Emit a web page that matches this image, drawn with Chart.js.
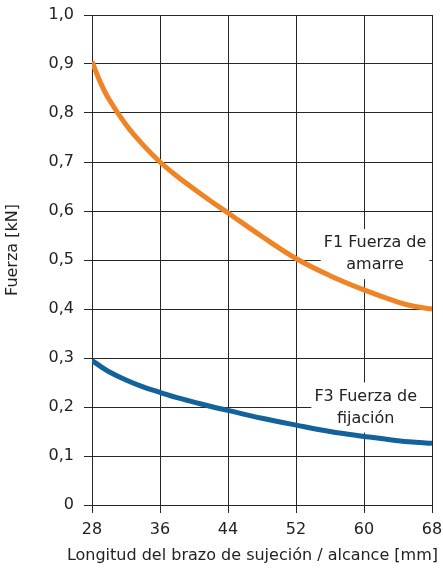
<!DOCTYPE html>
<html><head><meta charset="utf-8">
<script src="https://cdn.jsdelivr.net/npm/chart.js@4.4.1/dist/chart.umd.min.js"></script>
<style>html,body{margin:0;padding:0;background:#fff;}</style>
</head><body>
<canvas id="c" width="443" height="571"></canvas>
<script>
// ---- data ----
const xValues  = [28, 29, 30, 32, 34, 36, 38, 40, 42, 44, 48, 52, 56, 60, 64, 66, 68];
const f1Values = [0.905, 0.862, 0.828, 0.776, 0.735, 0.70, 0.671, 0.645, 0.62, 0.596, 0.548, 0.503, 0.468, 0.439, 0.414, 0.405, 0.40];
const f3Values = [0.295, 0.283, 0.272, 0.255, 0.241, 0.230, 0.219, 0.210, 0.201, 0.193, 0.177, 0.163, 0.150, 0.140, 0.131, 0.128, 0.126];
const yTickLabels = ['0', '0,1', '0,2', '0,3', '0,4', '0,5', '0,6', '0,7', '0,8', '0,9', '1,0'];
const xTitle = 'Longitud del brazo de sujeción / alcance [mm]';
const yTitle = 'Fuerza [kN]';
const seriesNames = ['F1 Fuerza de amarre', 'F3 Fuerza de fijación'];
const labelLines = [['F1 Fuerza de', 'amarre'], ['F3 Fuerza de', 'fijación']];
const labelAnchorX = [61.3, 60.2];
const labelAnchorY = [0.512, 0.199];

const FONT = 'DejaVu Sans';
const TXT = '#222222';
const GRID = '#262626';

const annot = {
  id: 'annot',
  beforeDatasetsDraw(chart) {
    const ctx = chart.ctx, xs = chart.scales.x, ys = chart.scales.y;
    labelLines.forEach((lines, k) => {
      ctx.save();
      ctx.font = '16px "' + FONT + '"';
      const lh = 22;
      const w = Math.max(...lines.map(t => ctx.measureText(t).width));
      const cx = xs.getPixelForValue(labelAnchorX[k]);
      const cy = ys.getPixelForValue(labelAnchorY[k]);
      const h = lines.length * lh;
      ctx.fillStyle = '#ffffff';
      ctx.fillRect(cx - w / 2 - 3, cy - h / 2 - 3, w + 6, h + 6);
      ctx.fillStyle = TXT;
      ctx.textAlign = 'center';
      ctx.textBaseline = 'middle';
      lines.forEach((t, i) => ctx.fillText(t, cx, cy - h / 2 + lh * (i + 0.5)));
      ctx.restore();
    });
  },
  afterDraw(chart) {
    const ctx = chart.ctx, ca = chart.chartArea;
    ctx.save();
    ctx.font = '16px "' + FONT + '"';
    ctx.fillStyle = TXT;
    ctx.textBaseline = 'middle';
    ctx.textAlign = 'right';
    ctx.fillText(xTitle, chart.width - 5, ca.bottom + 51);
    ctx.translate(13, (ca.top + ca.bottom) / 2 - 10);
    ctx.rotate(-Math.PI / 2);
    ctx.textAlign = 'center';
    ctx.fillText(yTitle, 0, 0);
    ctx.restore();
  }
};

new Chart(document.getElementById('c'), {
  type: 'line',
  data: {
    datasets: [
      { label: seriesNames[0], data: xValues.map((x, i) => ({x, y: f1Values[i]})),
        borderColor: '#ef8427', borderWidth: 5, pointRadius: 0, tension: 0.4, fill: false },
      { label: seriesNames[1], data: xValues.map((x, i) => ({x, y: f3Values[i]})),
        borderColor: '#13639a', borderWidth: 5, pointRadius: 0, tension: 0.4, fill: false }
    ]
  },
  options: {
    responsive: false,
    devicePixelRatio: 1,
    animation: false,
    layout: { padding: { top: 15, right: 11, left: 0, bottom: 0 } },
    plugins: { legend: { display: false }, tooltip: { enabled: false } },
    scales: {
      x: {
        type: 'linear', min: 28, max: 68,
        ticks: { stepSize: 8, color: TXT, font: { family: FONT, size: 16 }, padding: 7, maxRotation: 0 },
        grid: { color: GRID, lineWidth: 1, tickLength: 8 },
        border: { color: GRID },
        title: { display: false },
        afterFit: s => { s.height = 66; s.paddingLeft = 0; s.paddingRight = 0; }
      },
      y: {
        min: 0, max: 1,
        ticks: { stepSize: 0.1, color: TXT, font: { family: FONT, size: 16 }, padding: 10,
          callback: (v, i) => yTickLabels[i] },
        grid: { color: GRID, lineWidth: 1, tickLength: 8 },
        border: { color: GRID },
        title: { display: false },
        afterFit: s => { s.width = 92; s.paddingTop = 0; s.paddingBottom = 0; }
      }
    }
  },
  plugins: [annot]
});
</script>
</body></html>
